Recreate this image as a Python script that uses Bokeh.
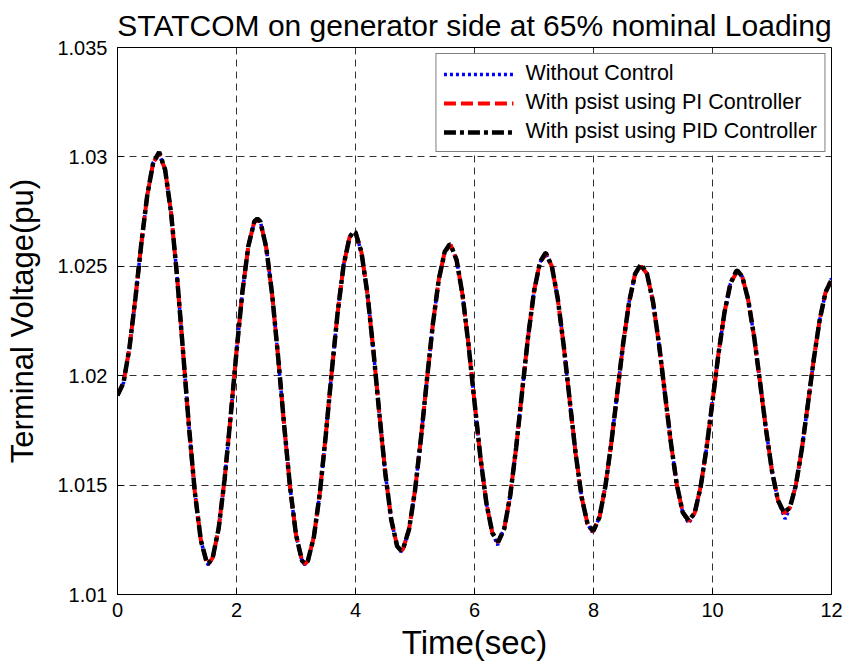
from bokeh.plotting import figure
from bokeh.models import FixedTicker, Legend, LegendItem, Range1d
from bokeh.embed import file_html
from bokeh.resources import INLINE

TITLE = "STATCOM on generator side at 65% nominal Loading"
X_LABEL = "Time(sec)"
Y_LABEL = "Terminal Voltage(pu)"

x_ticks = [0, 2, 4, 6, 8, 10, 12]
y_ticks = [1.01, 1.015, 1.02, 1.025, 1.03, 1.035]
y_tick_labels = ["1.01", "1.015", "1.02", "1.025", "1.03", "1.035"]

series_names = ["Without Control", "With psist using PI Controller", "With psist using PID Controller"]

time_sec = [
    0.0, 0.1, 0.2, 0.3, 0.4, 0.5, 0.6, 0.7, 0.8, 0.9,
    1.0, 1.1, 1.2, 1.3, 1.4, 1.5, 1.53, 1.6, 1.7, 1.8, 1.9,
    2.0, 2.1, 2.2, 2.3, 2.35, 2.4, 2.5, 2.6, 2.7, 2.8, 2.9,
    3.0, 3.1, 3.15, 3.2, 3.3, 3.4, 3.5, 3.6, 3.7, 3.8, 3.9, 3.97,
    4.0, 4.1, 4.2, 4.3, 4.4, 4.5, 4.6, 4.7, 4.76, 4.8, 4.9,
    5.0, 5.1, 5.2, 5.3, 5.4, 5.5, 5.58, 5.6, 5.7, 5.8, 5.9,
    6.0, 6.1, 6.2, 6.3, 6.39, 6.4, 6.5, 6.6, 6.7, 6.8, 6.9,
    7.0, 7.1, 7.19, 7.2, 7.3, 7.4, 7.5, 7.6, 7.7, 7.8, 7.9, 7.98,
    8.0, 8.1, 8.2, 8.3, 8.4, 8.5, 8.6, 8.7, 8.8, 8.9,
    9.0, 9.1, 9.2, 9.3, 9.4, 9.5, 9.6, 9.7, 9.8, 9.9,
    10.0, 10.1, 10.2, 10.3, 10.4, 10.42, 10.5, 10.6, 10.7, 10.8, 10.9,
    11.0, 11.1, 11.2, 11.22, 11.3, 11.4, 11.5, 11.6, 11.7, 11.8, 11.9, 12.0,
]

v_without_control = [
    1.01910, 1.01967, 1.02125, 1.02352, 1.02603, 1.02825, 1.02974, 1.03015, 1.02942, 1.02745,
    1.02457, 1.02116, 1.01770, 1.01467, 1.01249, 1.01146, 1.01135, 1.01168, 1.01302, 1.01526, 1.01810,
    1.02110, 1.02385, 1.02594, 1.02705, 1.02715, 1.02705, 1.02586, 1.02369, 1.02084, 1.01776, 1.01491,
    1.01273, 1.01155, 1.01135, 1.01154, 1.01263, 1.01462, 1.01727, 1.02016, 1.02289, 1.02505, 1.02633, 1.02655,
    1.02655, 1.02564, 1.02375, 1.02117, 1.01828, 1.01556, 1.01343, 1.01221, 1.01195, 1.01208, 1.01298,
    1.01475, 1.01714, 1.01980, 1.02235, 1.02440, 1.02567, 1.02595, 1.02598, 1.02528, 1.02367, 1.02140,
    1.01880, 1.01626, 1.01417, 1.01281, 1.01225, 1.01241, 1.01301, 1.01452, 1.01672, 1.01926, 1.02177,
    1.02384, 1.02519, 1.02555, 1.02560, 1.02500, 1.02351, 1.02136, 1.01887, 1.01644, 1.01446, 1.01322, 1.01285,
    1.01292, 1.01353, 1.01495, 1.01694, 1.01923, 1.02150, 1.02339, 1.02466, 1.02505, 1.02465,
    1.02338, 1.02146, 1.01920, 1.01695, 1.01502, 1.01375, 1.01325, 1.01372, 1.01491, 1.01669,
    1.01883, 1.02099, 1.02287, 1.02420, 1.02479, 1.02475, 1.02453, 1.02347, 1.02177, 1.01968, 1.01753,
    1.01564, 1.01430, 1.01360, 1.01345, 1.01396, 1.01498, 1.01662, 1.01863, 1.02071, 1.02253, 1.02382, 1.02445,
]

v_pi_controller = [
    1.01910, 1.01967, 1.02125, 1.02352, 1.02603, 1.02825, 1.02974, 1.03015, 1.02942, 1.02745,
    1.02457, 1.02116, 1.01770, 1.01467, 1.01249, 1.01146, 1.01140, 1.01168, 1.01302, 1.01526, 1.01810,
    1.02110, 1.02385, 1.02594, 1.02705, 1.02712, 1.02705, 1.02586, 1.02369, 1.02084, 1.01776, 1.01491,
    1.01273, 1.01155, 1.01140, 1.01154, 1.01263, 1.01462, 1.01727, 1.02016, 1.02289, 1.02505, 1.02633, 1.02652,
    1.02655, 1.02564, 1.02375, 1.02117, 1.01828, 1.01556, 1.01343, 1.01221, 1.01200, 1.01208, 1.01298,
    1.01475, 1.01714, 1.01980, 1.02235, 1.02440, 1.02567, 1.02592, 1.02598, 1.02528, 1.02367, 1.02140,
    1.01880, 1.01626, 1.01417, 1.01281, 1.01240, 1.01241, 1.01301, 1.01452, 1.01672, 1.01926, 1.02177,
    1.02384, 1.02519, 1.02550, 1.02560, 1.02500, 1.02351, 1.02136, 1.01887, 1.01644, 1.01446, 1.01322, 1.01290,
    1.01292, 1.01353, 1.01495, 1.01694, 1.01923, 1.02150, 1.02339, 1.02466, 1.02500, 1.02465,
    1.02338, 1.02146, 1.01920, 1.01695, 1.01502, 1.01375, 1.01335, 1.01372, 1.01491, 1.01669,
    1.01883, 1.02099, 1.02287, 1.02420, 1.02470, 1.02472, 1.02453, 1.02347, 1.02177, 1.01968, 1.01753,
    1.01564, 1.01430, 1.01372, 1.01375, 1.01396, 1.01498, 1.01662, 1.01863, 1.02071, 1.02253, 1.02382, 1.02430,
]

v_pid_controller = [
    1.01910, 1.01967, 1.02125, 1.02352, 1.02603, 1.02825, 1.02974, 1.03022, 1.02942, 1.02745,
    1.02457, 1.02116, 1.01770, 1.01467, 1.01249, 1.01146, 1.01142, 1.01168, 1.01302, 1.01526, 1.01810,
    1.02110, 1.02385, 1.02594, 1.02705, 1.02718, 1.02705, 1.02586, 1.02369, 1.02084, 1.01776, 1.01491,
    1.01273, 1.01155, 1.01142, 1.01154, 1.01263, 1.01462, 1.01727, 1.02016, 1.02289, 1.02505, 1.02633, 1.02660,
    1.02655, 1.02564, 1.02375, 1.02117, 1.01828, 1.01556, 1.01343, 1.01221, 1.01202, 1.01208, 1.01298,
    1.01475, 1.01714, 1.01980, 1.02235, 1.02440, 1.02567, 1.02600, 1.02598, 1.02528, 1.02367, 1.02140,
    1.01880, 1.01626, 1.01417, 1.01281, 1.01245, 1.01241, 1.01301, 1.01452, 1.01672, 1.01926, 1.02177,
    1.02384, 1.02519, 1.02560, 1.02560, 1.02500, 1.02351, 1.02136, 1.01887, 1.01644, 1.01446, 1.01322, 1.01295,
    1.01292, 1.01353, 1.01495, 1.01694, 1.01923, 1.02150, 1.02339, 1.02466, 1.02510, 1.02465,
    1.02338, 1.02146, 1.01920, 1.01695, 1.01502, 1.01375, 1.01338, 1.01372, 1.01491, 1.01669,
    1.01883, 1.02099, 1.02287, 1.02420, 1.02479, 1.02480, 1.02453, 1.02347, 1.02177, 1.01968, 1.01753,
    1.01564, 1.01430, 1.01375, 1.01380, 1.01396, 1.01498, 1.01662, 1.01863, 1.02071, 1.02253, 1.02382, 1.02438,
]

FONT = "Liberation Sans"

p = figure(
    width=850, height=665,
    x_range=Range1d(0, 12), y_range=Range1d(1.01, 1.035),
    output_backend="svg", toolbar_location=None,
    min_border_left=117, min_border_right=19, min_border_top=47, min_border_bottom=71,
    title=TITLE,
)
p.background_fill_color = "white"
p.border_fill_color = "white"
p.outline_line_color = "black"
p.outline_line_width = 1

p.title.text_font = FONT
p.title.text_font_size = "30px"
p.title.text_font_style = "normal"
p.title.text_color = "black"
p.title.align = "center"
p.title.offset = 0
p.title.standoff = 12

p.xaxis.ticker = FixedTicker(ticks=x_ticks)
p.yaxis.ticker = FixedTicker(ticks=y_ticks)
p.yaxis.major_label_overrides = {t: s for t, s in zip(y_ticks, y_tick_labels)}

for ax in (p.xaxis, p.yaxis):
    ax.major_tick_in = 6
    ax.major_tick_out = 0
    ax.minor_tick_line_color = None
    ax.axis_line_color = "black"
    ax.major_tick_line_color = "black"
    ax.major_label_text_font = FONT
    ax.major_label_text_font_size = "20px"
    ax.major_label_text_color = "black"
    ax.axis_label_text_font = FONT
    ax.axis_label_text_font_style = "normal"
    ax.axis_label_text_color = "black"

p.xaxis.axis_label = X_LABEL
p.yaxis.axis_label = Y_LABEL
p.xaxis.axis_label_text_font_size = "33px"
p.yaxis.axis_label_text_font_size = "31px"
p.xaxis.major_label_standoff = 8
p.xaxis.axis_label_standoff = 4
p.yaxis.major_label_standoff = 10
p.yaxis.axis_label_standoff = 14

p.grid.grid_line_color = "#333333"
p.grid.grid_line_dash = "7 5"
p.grid.grid_line_width = 1

r_blue = p.line(time_sec, v_without_control, line_color="#0000FF", line_width=3.5, line_dash="3 3")
r_red = p.line(time_sec, v_pi_controller, line_color="#FF0000", line_width=4, line_dash="12 5")
r_black = p.line(time_sec, v_pid_controller, line_color="black", line_width=4.5, line_dash="12 4 4 4")

legend = Legend(
    items=[
        LegendItem(label=series_names[0], renderers=[r_blue]),
        LegendItem(label=series_names[1], renderers=[r_red]),
        LegendItem(label=series_names[2], renderers=[r_black]),
    ],
    location="top_right",
)
legend.margin = 6
legend.padding = 7
legend.spacing = 4
legend.glyph_width = 70
legend.glyph_height = 22
legend.label_standoff = 12
legend.label_text_font = FONT
legend.label_text_font_size = "21.5px"
legend.label_text_color = "black"
legend.border_line_color = "black"
legend.border_line_width = 1
legend.background_fill_color = "white"
legend.background_fill_alpha = 1.0
p.add_layout(legend)

open("out.html", "w").write(file_html(p, INLINE))
